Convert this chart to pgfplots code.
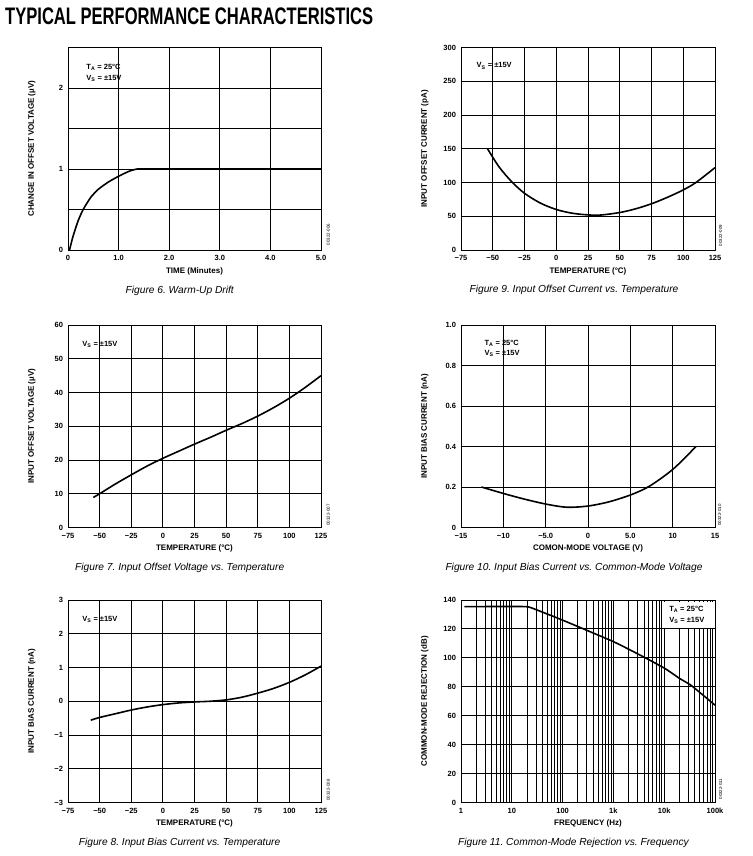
\documentclass[border=0pt]{standalone}
\usepackage{fontspec}
\setmainfont{Liberation Sans}
\usepackage{graphicx}
\usepackage{pgfplots}
\pgfplotsset{compat=1.18}
\frenchspacing
\newcommand{\tickfont}{\fontsize{7.5}{8}\selectfont\bfseries}
\newcommand{\labfont}{\fontsize{8}{9}\selectfont\bfseries}
\newcommand{\annfont}{\fontsize{7.5}{8}\selectfont\bfseries}
\newcommand{\capfont}{\fontsize{10.2}{12}\selectfont\itshape}
\newcommand{\idfont}{\fontsize{4.4}{5}\selectfont}
\pgfplotsset{
  panel/.style={
    scale only axis, height=202.5pt, anchor=south west,
    grid=major,
    grid style={black, line width=0.9pt},
    minor grid style={black, line width=0.9pt},
    axis line style={black, line width=0.9pt},
    major tick length=0pt, minor tick length=0pt,
    tick style={draw=none},
    tick label style={font=\tickfont},
    /pgf/number format/assume math mode=true,
    every axis x label/.style={at={(axis description cs:0.5,0)}, anchor=center, yshift=-21pt, font=\labfont},
    every axis y label/.style={at={(axis description cs:-0.143,0.5)}, anchor=center, rotate=90, font=\labfont},
    xticklabel style={yshift=-2pt},
    yticklabel style={xshift=-1.5pt},
    every axis plot/.append style={black, line width=1.6pt, mark=none},
  },
  tempx/.style={xmin=-75, xmax=125, xtick={-75,-50,-25,0,25,50,75,100,125},
    xticklabels={−75,−50,−25,0,25,50,75,100,125}, xlabel={TEMPERATURE (°C)}},
}
\begin{document}
\begin{tikzpicture}[x=1pt,y=1pt]
\path (0,0) rectangle (752,856);
% title
\node[anchor=south west, inner sep=0pt] at (5,831) {\resizebox{368pt}{16.7pt}{\bfseries TYPICAL PERFORMANCE CHARACTERISTICS}};

% Figure 6
\begin{axis}[panel, width=253pt, at={(68pt,606pt)},
  xmin=0, xmax=5, ymin=0, ymax=2.5,
  xtick={0,1,2,3,4,5}, xticklabels={0,1.0,2.0,3.0,4.0,5.0},
  ytick={0,0.5,1,1.5,2,2.5}, yticklabels={0,,1,,2,},
  xlabel={TIME (Minutes)}, ylabel={CHANGE IN OFFSET VOLTAGE (µV)}]
\addplot[black, line width=1.6pt, smooth, tension=0.4] coordinates {(0.03,0) (0.1,0.17) (0.2,0.36) (0.3,0.5) (0.45,0.65) (0.6,0.75) (0.8,0.84) (1.0,0.91) (1.2,0.97) (1.37,1.0) (1.6,1.0)};
\addplot[black, line width=1.6pt] coordinates {(1.6,1.0) (5,1.0)};
\node[anchor=base west, font=\annfont] at (rel axis cs:0.059,0.893) {T\textsubscript{A} = 25°C};
\node[anchor=base west, font=\annfont] at (rel axis cs:0.059,0.836) {V\textsubscript{S} = ±15V};
\end{axis}
\node[rotate=90, font=\idfont] at (328.3,621.5) {00322-006};
\node[anchor=base, font=\capfont] at (179.7,562.7) {Figure 6. Warm-Up Drift};

% Figure 9
\begin{axis}[panel, width=254pt, at={(461pt,606pt)}, tempx,
  ymin=0, ymax=300, ytick={0,50,100,150,200,250,300},
  yticklabels={0,50,100,150,200,250,300},
  ylabel={INPUT OFFSET CURRENT (pA)}]
\addplot[black, line width=1.6pt, smooth] coordinates {(-54.3,150.5) (-45,123) (-35,101) (-25,84) (-12.5,69.5) (0,60) (12.5,54.5) (25,52) (35,51.8) (50,55.5) (62.5,61) (75,68.5) (87.5,78) (100,89) (110,100) (125,122)};
\node[anchor=base west, font=\annfont] at (rel axis cs:0.048,0.899) {V\textsubscript{S} = ±15V};
\end{axis}
\node[rotate=90, font=\idfont] at (720.7,620.5) {00322-009};
\node[anchor=base, font=\capfont] at (574,563.7) {Figure 9. Input Offset Current vs. Temperature};

% Figure 7
\begin{axis}[panel, width=253pt, at={(68pt,328.5pt)}, tempx,
  ymin=0, ymax=60, ytick={0,10,20,30,40,50,60},
  yticklabels={0,10,20,30,40,50,60},
  ylabel={INPUT OFFSET VOLTAGE (µV)}]
\addplot[black, line width=1.6pt, smooth] coordinates {(-55,8.9) (-50,10) (-37.5,12.9) (-25,15.6) (-12.5,18.2) (0,20.5) (12.5,22.6) (25,24.7) (37.5,26.7) (50,28.8) (62.5,30.8) (75,33) (87.5,35.5) (100,38.3) (112.5,41.5) (125,45)};
\node[anchor=base west, font=\annfont] at (rel axis cs:0.043,0.896) {V\textsubscript{S} = ±15V};
\end{axis}
\node[rotate=90, font=\idfont] at (328.3,341) {00322-007};
\node[anchor=base, font=\capfont] at (179.7,285.4) {Figure 7. Input Offset Voltage vs. Temperature};

% Figure 10
\begin{axis}[panel, width=254pt, at={(461pt,328.5pt)},
  xmin=-15, xmax=15, xtick={-15,-10,-5,0,5,10,15},
  xticklabels={−15,−10,−5.0,0,5.0,10,15},
  ymin=0, ymax=1, ytick={0,0.2,0.4,0.6,0.8,1.0},
  yticklabels={0,0.2,0.4,0.6,0.8,1.0},
  xlabel={COMON-MODE VOLTAGE (V)}, ylabel={INPUT BIAS CURRENT (nA)}]
\addplot[black, line width=1.6pt, smooth] coordinates {(-12.6,0.2) (-9.9,0.167) (-7.5,0.14) (-4.9,0.115) (-2.5,0.10) (0,0.106) (2.5,0.127) (5.1,0.162) (7.3,0.205) (10.1,0.29) (12.75,0.40)};
\node[anchor=base west, font=\annfont] at (rel axis cs:0.079,0.899) {T\textsubscript{A} = 25°C};
\node[anchor=base west, font=\annfont] at (rel axis cs:0.079,0.850) {V\textsubscript{S} = ±15V};
\end{axis}
\node[rotate=90, font=\idfont] at (719.5,341) {00322-010};
\node[anchor=base, font=\capfont] at (574,285.4) {Figure 10. Input Bias Current vs. Common-Mode Voltage};

% Figure 8
\begin{axis}[panel, width=253pt, at={(68pt,53.5pt)}, tempx,
  ymin=-3, ymax=3, ytick={-3,-2,-1,0,1,2,3},
  yticklabels={−3,−2,−1,0,1,2,3},
  ylabel={INPUT BIAS CURRENT (nA)}]
\addplot[black, line width=1.6pt, smooth] coordinates {(-57,-0.56) (-50,-0.48) (-37.5,-0.37) (-25,-0.26) (-12.5,-0.17) (0,-0.1) (12.5,-0.05) (25,-0.02) (37.5,0.0) (50,0.04) (62.5,0.12) (75,0.24) (87.5,0.38) (100,0.56) (112.5,0.78) (125,1.04)};
\node[anchor=base west, font=\annfont] at (rel axis cs:0.043,0.896) {V\textsubscript{S} = ±15V};
\end{axis}
\node[rotate=90, font=\idfont] at (328.3,66) {00322-008};
\node[anchor=base, font=\capfont] at (179.6,10.4) {Figure 8. Input Bias Current vs. Temperature};

% Figure 11
\begin{axis}[panel, width=254pt, at={(461pt,53.5pt)},
  xmode=log, log basis x=10, xmin=1, xmax=100000,
  xtick={1,10,100,1000,10000,100000}, xticklabels={1,10,100,1k,10k,100k},
  minor xtick={2,3,4,5,6,7,8,9,20,30,40,50,60,70,80,90,200,300,400,500,600,700,800,900,2000,3000,4000,5000,6000,7000,8000,9000,20000,30000,40000,50000,60000,70000,80000,90000},
  grid=both,
  ymin=0, ymax=140, ytick={0,20,40,60,80,100,120,140},
  yticklabels={0,20,40,60,80,100,120,140},
  xlabel={FREQUENCY (Hz)}, ylabel={COMMON-MODE REJECTION (dB)}]
\fill[white] (rel axis cs:0.794,0.863) rectangle (rel axis cs:0.993,0.989);
\addplot[black, line width=1.6pt, smooth, tension=0.3] coordinates {(1.16,135.4) (5,135.5) (15,135.5) (20.7,135.3) (26,134.2) (98,126.2) (1000,111.2) (3850,100.8) (10300,92.7) (20000,85.8) (34700,80.7) (100000,67.3)};
\node[anchor=base west, font=\annfont] at (rel axis cs:0.806,0.942) {T\textsubscript{A} = 25°C};
\node[anchor=base west, font=\annfont] at (rel axis cs:0.806,0.888) {V\textsubscript{S} = ±15V};
\end{axis}
\node[rotate=90, font=\idfont] at (720.7,67) {00322-011};
\node[anchor=base, font=\capfont] at (573.5,10.4) {Figure 11. Common-Mode Rejection vs. Frequency};
\end{tikzpicture}
\end{document}
